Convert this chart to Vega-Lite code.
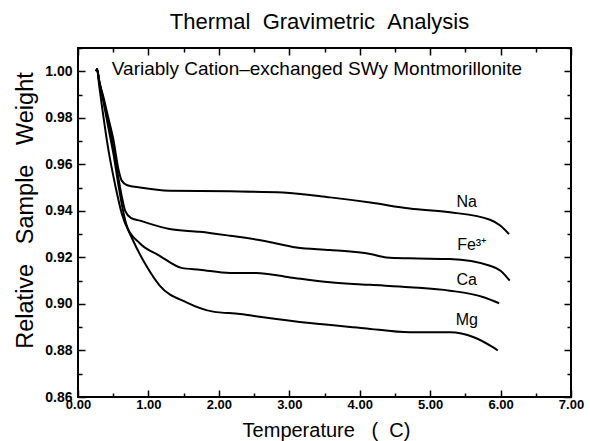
{
  "$schema": "https://vega.github.io/schema/vega-lite/v6.json",
  "width": 493,
  "height": 349,
  "autosize": {"type": "none"},
  "padding": {"left": 78, "top": 48, "right": 19, "bottom": 44},
  "background": "white",
  "title": {
    "text": "Thermal\u00a0\u00a0Gravimetric\u00a0\u00a0Analysis",
    "font": "Liberation Sans",
    "fontSize": 22,
    "fontWeight": "normal",
    "color": "black",
    "anchor": "middle",
    "frame": "group",
    "dx": -5,
    "dy": 29,
    "offset": 19,
    "baseline": "alphabetic"
  },
  "datasets": {
    "curves": [
      {"series": "Na", "temp": 0.26, "weight": 1.000},
      {"series": "Na", "temp": 0.27, "weight": 1.001},
      {"series": "Na", "temp": 0.30, "weight": 0.996},
      {"series": "Na", "temp": 0.36, "weight": 0.989},
      {"series": "Na", "temp": 0.43, "weight": 0.980},
      {"series": "Na", "temp": 0.50, "weight": 0.971},
      {"series": "Na", "temp": 0.58, "weight": 0.957},
      {"series": "Na", "temp": 0.62, "weight": 0.953},
      {"series": "Na", "temp": 0.70, "weight": 0.951},
      {"series": "Na", "temp": 0.88, "weight": 0.950},
      {"series": "Na", "temp": 1.30, "weight": 0.9486},
      {"series": "Na", "temp": 2.16, "weight": 0.9484},
      {"series": "Na", "temp": 2.91, "weight": 0.9479},
      {"series": "Na", "temp": 3.58, "weight": 0.9458},
      {"series": "Na", "temp": 4.15, "weight": 0.9436},
      {"series": "Na", "temp": 4.71, "weight": 0.9410},
      {"series": "Na", "temp": 5.28, "weight": 0.9394},
      {"series": "Na", "temp": 5.85, "weight": 0.9362},
      {"series": "Na", "temp": 6.00, "weight": 0.9336},
      {"series": "Na", "temp": 6.12, "weight": 0.9300},
      {"series": "Fe", "temp": 0.26, "weight": 1.000},
      {"series": "Fe", "temp": 0.27, "weight": 1.001},
      {"series": "Fe", "temp": 0.30, "weight": 0.996},
      {"series": "Fe", "temp": 0.36, "weight": 0.988},
      {"series": "Fe", "temp": 0.43, "weight": 0.978},
      {"series": "Fe", "temp": 0.50, "weight": 0.968},
      {"series": "Fe", "temp": 0.58, "weight": 0.953},
      {"series": "Fe", "temp": 0.63, "weight": 0.945},
      {"series": "Fe", "temp": 0.67, "weight": 0.940},
      {"series": "Fe", "temp": 0.75, "weight": 0.937},
      {"series": "Fe", "temp": 0.88, "weight": 0.9358},
      {"series": "Fe", "temp": 1.30, "weight": 0.9322},
      {"series": "Fe", "temp": 1.73, "weight": 0.9310},
      {"series": "Fe", "temp": 2.16, "weight": 0.9293},
      {"series": "Fe", "temp": 2.63, "weight": 0.9272},
      {"series": "Fe", "temp": 3.10, "weight": 0.9243},
      {"series": "Fe", "temp": 3.58, "weight": 0.9232},
      {"series": "Fe", "temp": 4.15, "weight": 0.9215},
      {"series": "Fe", "temp": 4.38, "weight": 0.9200},
      {"series": "Fe", "temp": 4.71, "weight": 0.9196},
      {"series": "Fe", "temp": 5.28, "weight": 0.9193},
      {"series": "Fe", "temp": 5.85, "weight": 0.9164},
      {"series": "Fe", "temp": 6.00, "weight": 0.9143},
      {"series": "Fe", "temp": 6.13, "weight": 0.9100},
      {"series": "Ca", "temp": 0.26, "weight": 1.000},
      {"series": "Ca", "temp": 0.27, "weight": 1.001},
      {"series": "Ca", "temp": 0.30, "weight": 0.996},
      {"series": "Ca", "temp": 0.36, "weight": 0.987},
      {"series": "Ca", "temp": 0.43, "weight": 0.976},
      {"series": "Ca", "temp": 0.50, "weight": 0.965},
      {"series": "Ca", "temp": 0.58, "weight": 0.950},
      {"series": "Ca", "temp": 0.64, "weight": 0.940},
      {"series": "Ca", "temp": 0.70, "weight": 0.933},
      {"series": "Ca", "temp": 0.88, "weight": 0.9260},
      {"series": "Ca", "temp": 1.16, "weight": 0.9207},
      {"series": "Ca", "temp": 1.47, "weight": 0.9155},
      {"series": "Ca", "temp": 1.73, "weight": 0.9147},
      {"series": "Ca", "temp": 2.16, "weight": 0.9133},
      {"series": "Ca", "temp": 2.53, "weight": 0.9133},
      {"series": "Ca", "temp": 3.01, "weight": 0.9114},
      {"series": "Ca", "temp": 3.58, "weight": 0.9093},
      {"series": "Ca", "temp": 4.15, "weight": 0.9082},
      {"series": "Ca", "temp": 4.71, "weight": 0.9072},
      {"series": "Ca", "temp": 5.28, "weight": 0.9057},
      {"series": "Ca", "temp": 5.76, "weight": 0.9029},
      {"series": "Ca", "temp": 5.98, "weight": 0.9003},
      {"series": "Mg", "temp": 0.26, "weight": 1.000},
      {"series": "Mg", "temp": 0.27, "weight": 1.001},
      {"series": "Mg", "temp": 0.30, "weight": 0.994},
      {"series": "Mg", "temp": 0.34, "weight": 0.985},
      {"series": "Mg", "temp": 0.43, "weight": 0.9665},
      {"series": "Mg", "temp": 0.53, "weight": 0.9508},
      {"series": "Mg", "temp": 0.62, "weight": 0.939},
      {"series": "Mg", "temp": 0.77, "weight": 0.928},
      {"series": "Mg", "temp": 0.97, "weight": 0.9164},
      {"series": "Mg", "temp": 1.16, "weight": 0.9079},
      {"series": "Mg", "temp": 1.54, "weight": 0.9007},
      {"series": "Mg", "temp": 1.92, "weight": 0.8967},
      {"series": "Mg", "temp": 2.30, "weight": 0.8957},
      {"series": "Mg", "temp": 2.63, "weight": 0.8943},
      {"series": "Mg", "temp": 3.29, "weight": 0.8918},
      {"series": "Mg", "temp": 4.06, "weight": 0.8896},
      {"series": "Mg", "temp": 4.71, "weight": 0.8878},
      {"series": "Mg", "temp": 5.28, "weight": 0.8878},
      {"series": "Mg", "temp": 5.62, "weight": 0.8857},
      {"series": "Mg", "temp": 5.89, "weight": 0.8814},
      {"series": "Mg", "temp": 5.96, "weight": 0.8800}
    ],
    "labels": [
      {"label": "Na", "temp": 5.52, "weight": 0.944},
      {"label": "Fe³⁺", "temp": 5.59, "weight": 0.9252},
      {"label": "Ca", "temp": 5.52, "weight": 0.9101},
      {"label": "Mg", "temp": 5.52, "weight": 0.8930}
    ],
    "note": [
      {"label": "Variably Cation\u2013exchanged SWy Montmorillonite", "temp": 0.48, "weight": 0.9984}
    ]
  },
  "layer": [
    {
      "data": {"name": "curves"},
      "mark": {"type": "line", "color": "black", "strokeWidth": 2, "interpolate": "monotone"},
      "encoding": {
        "x": {
          "field": "temp", "type": "quantitative",
          "scale": {"domain": [0, 7], "nice": false, "zero": false},
          "axis": {
            "orient": "bottom",
            "values": [0, 0.5, 1, 1.5, 2, 2.5, 3, 3.5, 4, 4.5, 5, 5.5, 6, 6.5, 7],
            "domain": false, "grid": false,
            "tickColor": "black", "tickWidth": 1.5,
            "tickSize": {"condition": {"test": "datum.value % 1 === 0", "value": -7}, "value": -4},
            "labelExpr": "datum.value % 1 === 0 ? format(datum.value, '.2f') : ''",
            "labelFont": "Liberation Sans", "labelFontSize": 13, "labelFontWeight": "bold",
            "labelColor": "black", "labelPadding": 8, "labelFlush": false, "labelOverlap": false,
            "title": "Temperature\u00a0\u00a0\u00a0(\u00a0\u00a0C)",
            "titleFont": "Liberation Sans", "titleFontSize": 20, "titleFontWeight": "normal",
            "titleColor": "black", "titleX": 248, "titleY": 39, "titleBaseline": "alphabetic", "titleAlign": "center"
          }
        },
        "y": {
          "field": "weight", "type": "quantitative",
          "scale": {"domain": [0.86, 1.01], "nice": false, "zero": false},
          "axis": {
            "orient": "left",
            "values": [0.86, 0.87, 0.88, 0.89, 0.90, 0.91, 0.92, 0.93, 0.94, 0.95, 0.96, 0.97, 0.98, 0.99, 1.00, 1.01],
            "domain": false, "grid": false,
            "tickColor": "black", "tickWidth": 1.5,
            "tickSize": {"condition": {"test": "round(datum.value * 100) % 2 === 0", "value": -7}, "value": -4},
            "labelExpr": "round(datum.value * 100) % 2 === 0 ? format(datum.value, '.2f') : ''",
            "labelFont": "Liberation Sans", "labelFontSize": 14, "labelFontWeight": "bold",
            "labelColor": "black", "labelPadding": 13, "labelFlush": false, "labelOverlap": false,
            "title": "Relative\u00a0\u00a0\u00a0Sample\u00a0\u00a0\u00a0Weight",
            "titleFont": "Liberation Sans", "titleFontSize": 23.5, "titleFontWeight": "normal",
            "titleColor": "black", "titleX": -46, "titleY": 162, "titleAngle": -90,
            "titleBaseline": "alphabetic", "titleAlign": "center"
          }
        },
        "detail": {"field": "series", "type": "nominal"}
      }
    },
    {
      "data": {"name": "labels"},
      "mark": {"type": "text", "font": "Liberation Sans", "fontSize": 16, "color": "black", "align": "center", "baseline": "middle"},
      "encoding": {
        "x": {
          "field": "temp", "type": "quantitative",
          "axis": {
            "orient": "top",
            "values": [0, 0.5, 1, 1.5, 2, 2.5, 3, 3.5, 4, 4.5, 5, 5.5, 6, 6.5, 7],
            "domain": false, "grid": false, "labels": false, "title": null,
            "tickColor": "black", "tickWidth": 1.5,
            "tickSize": {"condition": {"test": "datum.value % 1 === 0", "value": -7}, "value": -4}
          }
        },
        "y": {
          "field": "weight", "type": "quantitative",
          "axis": {
            "orient": "right",
            "values": [0.86, 0.87, 0.88, 0.89, 0.90, 0.91, 0.92, 0.93, 0.94, 0.95, 0.96, 0.97, 0.98, 0.99, 1.00, 1.01],
            "domain": false, "grid": false, "labels": false, "title": null,
            "tickColor": "black", "tickWidth": 1.5,
            "tickSize": {"condition": {"test": "round(datum.value * 100) % 2 === 0", "value": -7}, "value": -4}
          }
        },
        "text": {"field": "label", "type": "nominal"}
      }
    },
    {
      "data": {"name": "note"},
      "mark": {"type": "text", "font": "Liberation Sans", "fontSize": 19, "color": "black", "align": "left", "baseline": "alphabetic"},
      "encoding": {
        "x": {"field": "temp", "type": "quantitative", "axis": null},
        "y": {"field": "weight", "type": "quantitative", "axis": null},
        "text": {"field": "label", "type": "nominal"}
      }
    }
  ],
  "resolve": {"axis": {"x": "independent", "y": "independent"}},
  "config": {
    "view": {"stroke": "black", "strokeWidth": 2}
  }
}
